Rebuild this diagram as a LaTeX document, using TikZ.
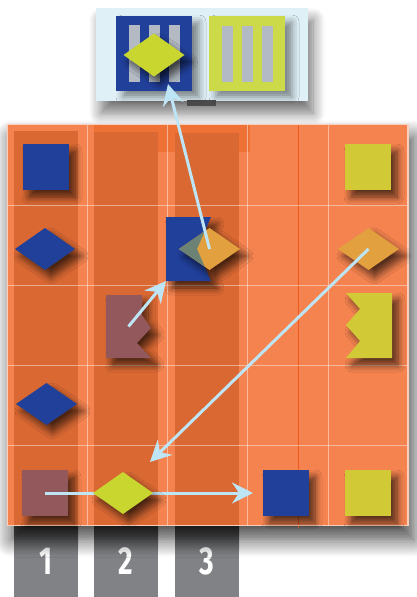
\documentclass[tikz,border=0pt]{standalone}
\usepackage{fontspec}
\setmainfont{Fira Sans}
\usetikzlibrary{shapes.geometric,arrows.meta,shadows.blur,calc}
\definecolor{boardC}{HTML}{F4834F}
\definecolor{bandC}{HTML}{D96833}
\definecolor{stripC}{HTML}{EE7236}
\definecolor{blueC}{HTML}{21409A}
\definecolor{yelC}{HTML}{D1C936}
\definecolor{ygC}{HTML}{C8D62F}
\definecolor{topyelC}{HTML}{CCDA4A}
\definecolor{mauveC}{HTML}{93585B}
\definecolor{orC}{HTML}{E3A03F}
\definecolor{mixC}{HTML}{6C8274}
\definecolor{tabC}{HTML}{808285}
\definecolor{tabtopC}{HTML}{4A4A4C}
\definecolor{arrowC}{HTML}{BEE5F5}
\definecolor{panelC}{HTML}{E0F0F7}
\definecolor{barC}{HTML}{B3BAC4}
\definecolor{redlineC}{HTML}{EE5A1E}
\begin{document}
\begin{tikzpicture}[x=1pt,y=-1pt,
  sq/.style={rectangle,minimum width=46pt,minimum height=46pt,inner sep=0pt,outer sep=0pt},
  dia/.style={diamond,minimum width=61pt,minimum height=42pt,inner sep=0pt,outer sep=0pt},
  ghost/.style={rectangle,inner sep=0pt,outer sep=0pt},
  shd/.style={blur shadow={shadow xshift=6pt,shadow yshift=-7pt,shadow blur radius=7pt,shadow blur steps=8,shadow opacity=65}},
  conn/.style={draw=arrowC,line width=3pt,-{Stealth[length=21pt,width=21pt,inset=7pt]}},
  tabbox/.style={rectangle,fill=tabC,minimum width=64pt,minimum height=71pt,inner sep=0pt,outer sep=0pt,text=white,font=\fontsize{39}{39}\selectfont\bfseries},
  tabshade/.style={top color=tabtopC,bottom color=tabC},
  bar/.style={fill=barC}
]
\useasboundingbox (0,0) rectangle (416,597);

% top panel
\node[rectangle,fill=panelC,minimum width=212pt,minimum height=93pt,inner sep=0pt,
  blur shadow={shadow xshift=5pt,shadow yshift=-12pt,shadow blur radius=12pt,shadow blur steps=10,shadow opacity=55}] (panel) at (202,54.5) {};
\fill[black!70] (187,100) rectangle (216,106);
\node[rectangle,fill=blueC,minimum width=76pt,minimum height=75pt,inner sep=0pt,
  blur shadow={shadow xshift=7pt,shadow yshift=-6pt,shadow blur radius=7pt,shadow opacity=45}] (tb) at (154,53.5) {};
\node[rectangle,fill=topyelC,minimum width=76pt,minimum height=75pt,inner sep=0pt,
  blur shadow={shadow xshift=7pt,shadow yshift=-6pt,shadow blur radius=7pt,shadow opacity=45}] (ty) at (247,53.5) {};
\foreach \x in {129,149,169} \fill[bar] (\x,25) rectangle (\x+11,82);
\foreach \x in {222,242,262} \fill[bar] (\x,26) rectangle (\x+11,82);
\node[dia,minimum height=43pt,fill=ygC,shd] (td) at (154,55) {};

% tabs
\node[tabbox] (t1) at (46,561.5) {};
\node[tabbox] (t2) at (126,561.5) {};
\node[tabbox] (t3) at (207,561.5) {};
\foreach \t in {t1,t2,t3} \fill[tabshade] (\t.north west) rectangle ($(\t.north east)+(0,24)$);
\node[text=white,font=\fontsize{39}{39}\selectfont\bfseries] (l1) at (t1.center) {\scalebox{0.72}[1]{1}};
\node[text=white,font=\fontsize{39}{39}\selectfont\bfseries] (l2) at (t2.center) {\scalebox{0.72}[1]{2}};
\node[text=white,font=\fontsize{39}{39}\selectfont\bfseries] (l3) at (t3.center) {\scalebox{0.72}[1]{3}};

% board
\node[rectangle,fill=boardC,draw=white!60!boardC,line width=1pt,minimum width=401pt,minimum height=401pt,inner sep=0pt,
  blur shadow={shadow xshift=5pt,shadow yshift=-14pt,shadow blur radius=18pt,shadow blur steps=12,shadow opacity=75}] (board) at (207.5,324.5) {};
\fill[stripC] (94,124.5) rectangle (250,152);
\fill[bandC] (14,131) rectangle (78,525);
\fill[bandC] (94,132) rectangle (158,525);
\fill[bandC] (175,133) rectangle (239,525);
\draw[redlineC,line width=0.8pt] (298,124.5) -- (298,528);
\foreach \x in {87,167,247,328} \draw[white,opacity=0.45,line width=1pt] (\x,124.5) -- (\x,525);
\foreach \y in {205,285,365,445} \draw[white,opacity=0.45,line width=1pt] (7.5,\y) -- (407.5,\y);
\draw[white!60!boardC,line width=1pt] (7.5,124.5) rectangle (407.5,525);

% row 1
\node[sq,fill=blueC,shd] (s11) at (46,167) {};
\node[sq,fill=yelC,shd] (s15) at (368,167) {};
% row 2
\node[dia,minimum width=60pt,fill=blueC,shd] (d21) at (45,249) {};
\node[ghost,minimum width=45pt,minimum height=64pt] (f3) at (188.5,249) {};
\fill[blueC,shd] (166,217) -- (211,217) -- (197,249) -- (211,281) -- (166,281) -- cycle;
\node[dia,fill=orC,shd] (o3) at (209.5,249) {};
\begin{scope}
  \clip (166,217) -- (211,217) -- (197,249) -- (211,281) -- (166,281) -- cycle;
  \fill[mixC] (179,249) -- (209.5,228) -- (240,249) -- (209.5,270) -- cycle;
\end{scope}
\node[dia,fill=orC,shd] (o5) at (368.5,249) {};
% row 3
\node[ghost,minimum width=45pt,minimum height=63pt] (m2) at (128.5,326.5) {};
\fill[mauveC,shd] (106,295) -- (142,295) -- (142,315) -- (151,328) -- (137,343) -- (151,358) -- (106,358) -- cycle;
\node[ghost,minimum width=46pt,minimum height=65pt] (z5) at (369,325.5) {};
\fill[yelC,shd] (346,293) -- (392,293) -- (392,358) -- (346,358) -- (360,341) -- (346,325) -- (360,309) -- cycle;
% row 4
\node[dia,fill=blueC,shd] (d41) at (46.5,404) {};
% row 5
\node[sq,fill=mauveC,shd] (s51) at (45,493) {};
\node[sq,fill=blueC,shd] (s54) at (286,493) {};
\node[sq,fill=yelC,shd] (s55) at (368,493) {};

% connectors
\coordinate (a1end) at (168,84);
\coordinate (a3end) at (150,462);
\coordinate (a4end) at (253,493);
\draw[conn] (s51.center) -- (a4end);
\node[dia,minimum width=60pt,fill=ygC,shd] (yg52) at (123,493) {};
\draw[conn] (o3.center) -- (a1end);
\draw[conn] (m2.center) -- (f3.south west);
\draw[conn] (o5.center) -- (a3end);
\end{tikzpicture}
\end{document}
